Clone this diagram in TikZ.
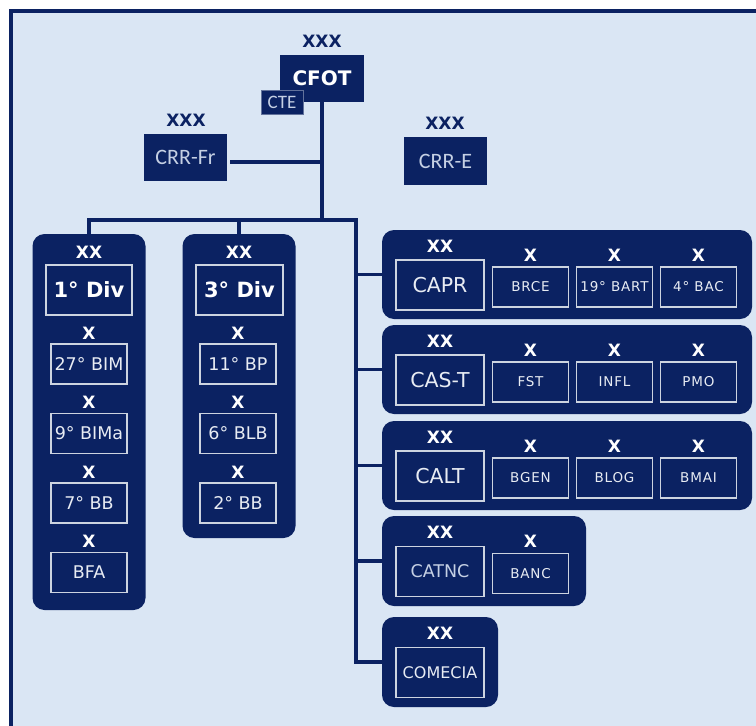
\documentclass[tikz,border=0pt]{standalone}
\usepackage{fontspec}
\setmainfont{DejaVu Sans}
\newfontfamily\calfont{Carlito}
\newfontfamily\spacedfont{DejaVu Sans}[LetterSpace=6]
\usepackage{tikz}
\usetikzlibrary{positioning}
\definecolor{orgnavy}{HTML}{0B2262}
\definecolor{orgback}{HTML}{DAE6F4}
\definecolor{orgedge}{HTML}{CDD4E0}
\definecolor{orgtext}{HTML}{E8ECF3}
\definecolor{orgsoft}{HTML}{C5D0E4}

\begin{document}
\begin{tikzpicture}[
  x=1pt,y=-1pt,
  link/.style={draw=orgnavy,line width=3.8pt},
  lab/.style={inner sep=0pt,font=\bfseries\fontsize{17}{19}\selectfont},
  echelon/.style={lab,text=orgnavy},
  badge/.style={lab,text=white},
  command/.style={fill=orgnavy,text=orgsoft,inner sep=0pt,
    minimum width=83pt,minimum height=47pt,
    font=\calfont\fontsize{22}{25}\selectfont},
  panel/.style={fill=orgnavy,rounded corners=12pt,inner sep=0pt},
  unit/.style={draw=orgedge,line width=1.6pt,text=orgtext,inner sep=0pt,
    minimum width=76pt,minimum height=40pt,
    font=\fontsize{17.5}{19}\selectfont},
  subunit/.style={unit,font=\spacedfont\fontsize{13.5}{15}\selectfont},
  division/.style={unit,minimum width=86pt,minimum height=50pt,
    text=white,font=\bfseries\fontsize{21}{24}\selectfont},
  corps/.style={unit,minimum width=88pt,minimum height=50pt,
    font=\fontsize{20.5}{23}\selectfont}
]
% Page frame, cut by the page edge on the right and at the bottom.
\useasboundingbox (0,0) rectangle (756,726);
\clip (0,0) rectangle (756,726);
\fill[orgback] (11,11) rectangle (790,760);
\draw[orgnavy,line width=4.5pt] (11,11) rectangle (790,760);

% Command level.
\node[echelon] (cfot-ech) at (322,41) {XXX};
\node[command,minimum width=84pt,text=white,
  font=\bfseries\fontsize{20}{22}\selectfont] (cfot) at (322,78.5) {CFOT};
\node[command,draw=orgedge!45!orgnavy,line width=.8pt,minimum width=42pt,
  minimum height=24pt,font=\calfont\fontsize{19}{21}\selectfont]
  (cte) at (282,102.5) {CTE};
\node[echelon] (crr-fr-ech) at (186,120) {XXX};
\node[command] (crr-fr) at (185.5,157.5) {CRR-Fr};
\node[echelon] (crr-e-ech) at (445,123) {XXX};
\node[command,minimum height=48pt] (crr-e) at (445.5,161) {CRR-E};

% Divisions: one rounded column each.
\node[panel,minimum width=113pt,minimum height=376pt]
  (div1-panel) at (89,422) {};
\node[badge] (div1-ech) at (89,252) {XX};
\node[division] (div1) at (89,290) {1° Div};
\foreach \i/\unit in {1/27° BIM,2/9° BIMa,3/7° BB,4/BFA} {
  \pgfmathsetmacro{\rowy}{364+69.5*(\i-1)}
  \node[badge] (div1-ech-\i) at ({89},{\rowy-31}) {X};
  \node[unit] (div1-unit-\i) at ({89},{\rowy}) {\unit};
}
\node[panel,minimum width=113pt,minimum height=304pt]
  (div3-panel) at (239,386) {};
\node[badge] (div3-ech) at (239,252) {XX};
\node[division,minimum width=87pt] (div3) at (239.5,290) {3° Div};
\foreach \i/\unit in {1/11° BP,2/6° BLB,3/2° BB} {
  \pgfmathsetmacro{\rowy}{364+69.5*(\i-1)}
  \node[badge] (div3-ech-\i) at ({238},{\rowy-31}) {X};
  \node[unit] (div3-unit-\i) at ({238},{\rowy}) {\unit};
}

% Support commands: one rounded row each.
\foreach \name/\top/\main/\units in {
    capr/230/CAPR/{BRCE,19° BART,4° BAC},
    cast/325/CAS-T/{FST,INFL,PMO},
    calt/421/CALT/{BGEN,BLOG,BMAI}} {
  \node[panel,minimum width=370pt,minimum height=89pt]
    (\name-panel) at ({567},{\top+44.5}) {};
  \node[badge] (\name-ech) at ({440},{\top+16}) {XX};
  \node[corps] (\name) at ({440},{\top+55}) {\main};
  \foreach \unit [count=\j] in \units {
    \node[badge] (\name-ech-\j) at ({530.5+84*(\j-1)},{\top+25.5}) {X};
    \node[subunit] (\name-unit-\j) at ({530.5+84*(\j-1)},{\top+57}) {\unit};
  }
}
\node[panel,minimum width=204pt,minimum height=90pt]
  (catnc-panel) at (484,561) {};
\node[badge] (catnc-ech) at (440,532) {XX};
\node[corps,text=orgsoft,font=\fontsize{17.5}{19}\selectfont]
  (catnc) at (440,571.5) {CATNC};
\node[badge] (catnc-ech-1) at (530.5,541.5) {X};
\node[subunit] (catnc-unit-1) at (530.5,573.5) {BANC};
\node[panel,minimum width=116pt,minimum height=90pt]
  (comecia-panel) at (440,662) {};
\node[badge] (comecia-ech) at (440,633) {XX};
\node[corps,font=\fontsize{16}{18}\selectfont]
  (comecia) at (440,672.5) {COMECIA};

% Command lines.
\coordinate (bus-right) at (356,220);
\draw[link] (cfot.south) -- (cfot.south |- bus-right);
\draw[link,shorten <=3pt] ([yshift=-4.5pt]crr-fr.east)
  -- ([yshift=-4.5pt]crr-fr.east -| cfot.south);
\draw[link] (div1-panel.north) |- (bus-right) |- (comecia-panel.west);
\draw[link] (div3-panel.north) -- (div3-panel.north |- bus-right);
\foreach \name in {capr,cast,calt,catnc}
  \draw[link] (\name-panel.west -| bus-right) -- (\name-panel.west);
\end{tikzpicture}
\end{document}
